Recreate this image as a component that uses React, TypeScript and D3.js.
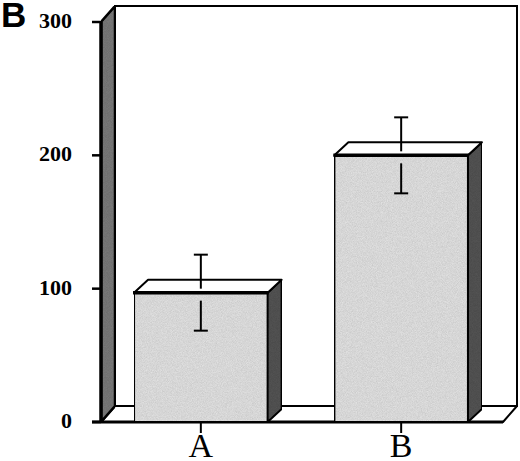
import React from 'react'
import * as d3 from 'd3'

// values
const categories = ['A', 'B']
const means = [97, 200]
const errors = [28.5, 28.5]
const yTicks = [0, 100, 200, 300]

const width = 520
const height = 461

export default function App() {
  const y = d3.scaleLinear().domain([0, 300]).range([422, 22])
  const x = d3.scaleBand<string>()
    .domain(categories)
    .range([101, 501])
    .paddingInner(1 / 3)
    .paddingOuter(0.165)

  // fake 3d offsets
  const wdx = 14, wdy = -16
  const bdx = 14, bdy = -13

  const y0 = y(0)
  const yTop = y(300)
  const xLeft = 101
  const xRight = 503

  const pts = (p: number[][]) => p.map(d => d.join(',')).join(' ')

  return (
    <svg width={width} height={height} style={{ position: 'absolute', left: 0, top: 0 }}>
      <defs>
        <filter id="grain" x="0" y="0" width="100%" height="100%">
          <feTurbulence type="fractalNoise" baseFrequency="1.2" numOctaves="2" seed="3" result="n" />
          <feColorMatrix in="n" type="matrix"
            values="0 0 0 0 0  0 0 0 0 0  0 0 0 0 0  0 0 0 0.3 0" result="dots" />
          <feComposite in="dots" in2="SourceGraphic" operator="atop" />
        </filter>
      </defs>
      <rect width={width} height={height} fill="#fff" />

      {/* back wall */}
      <rect x={xLeft + wdx} y={yTop + wdy} width={xRight - xLeft} height={y0 - yTop}
        fill="#fff" stroke="#000" strokeWidth={2} />
      {/* floor */}
      <polygon points={pts([[xLeft, y0], [xRight, y0], [xRight + wdx, y0 + wdy], [xLeft + wdx, y0 + wdy]])}
        fill="#fff" stroke="#000" strokeWidth={2} strokeLinejoin="round" />
      {/* side wall */}
      <polygon points={pts([[xLeft, y0], [xLeft, yTop], [xLeft + wdx, yTop + wdy], [xLeft + wdx, y0 + wdy]])}
        fill="#7c7c7c" stroke="#000" strokeWidth={2.5} strokeLinejoin="round" filter="url(#grain)" />
      <line x1={xLeft} x2={xLeft} y1={yTop} y2={y0} stroke="#000" strokeWidth={3.5} />
      <line x1={92} x2={xRight} y1={y0} y2={y0} stroke="#000" strokeWidth={3} />

      {/* y ticks and labels */}
      {yTicks.map(t => (
        <g key={t}>
          <line x1={92} x2={xLeft} y1={y(t)} y2={y(t)} stroke="#000" strokeWidth={2.5} />
          <text x={72} y={y(t) + 6} textAnchor="end" fontFamily="Liberation Serif" fontWeight="bold"
            fontSize={22}>{t}</text>
        </g>
      ))}

      {/* bars */}
      {categories.map((c, i) => {
        const x0 = x(c) as number
        const x1 = x0 + x.bandwidth()
        const yv = y(means[i])
        const cx = x0 + x.bandwidth() / 2
        return (
          <g key={c}>
            <polygon points={pts([[x1, y0], [x1, yv], [x1 + bdx, yv + bdy], [x1 + bdx, y0 + bdy]])}
              fill="#555" stroke="#000" strokeWidth={2} strokeLinejoin="round" filter="url(#grain)" />
            <polygon points={pts([[x0, yv], [x0 + bdx, yv + bdy], [x1 + bdx, yv + bdy], [x1, yv]])}
              fill="#fff" stroke="#000" strokeWidth={2} strokeLinejoin="round" />
            <rect x={x0} y={yv} width={x.bandwidth()} height={y0 - yv}
              fill="#e6e6e6" stroke="#000" strokeWidth={2} filter="url(#grain)" />
            <line x1={x0 - 1} x2={x1 + 1} y1={yv} y2={yv} stroke="#000" strokeWidth={3.5} />
            {/* error bar, broken around the top edge */}
            <line x1={cx} x2={cx} y1={y(means[i] + errors[i])} y2={yv - 4} stroke="#000" strokeWidth={2} />
            <line x1={cx} x2={cx} y1={yv + 8} y2={y(means[i] - errors[i])} stroke="#000" strokeWidth={2} />
            <line x1={cx - 7} x2={cx + 7} y1={y(means[i] + errors[i])} y2={y(means[i] + errors[i])}
              stroke="#000" strokeWidth={2} />
            <line x1={cx - 7} x2={cx + 7} y1={y(means[i] - errors[i])} y2={y(means[i] - errors[i])}
              stroke="#000" strokeWidth={2} />
            {/* x tick and label */}
            <line x1={cx} x2={cx} y1={y0} y2={y0 + 11} stroke="#000" strokeWidth={2} />
            <text x={cx} y={457} textAnchor="middle" fontFamily="Liberation Serif" fontSize={34}>{c}</text>
          </g>
        )
      })}

      <text x={1} y={27} fontFamily="Liberation Sans" fontWeight="bold" fontSize={35}>B</text>
    </svg>
  )
}
